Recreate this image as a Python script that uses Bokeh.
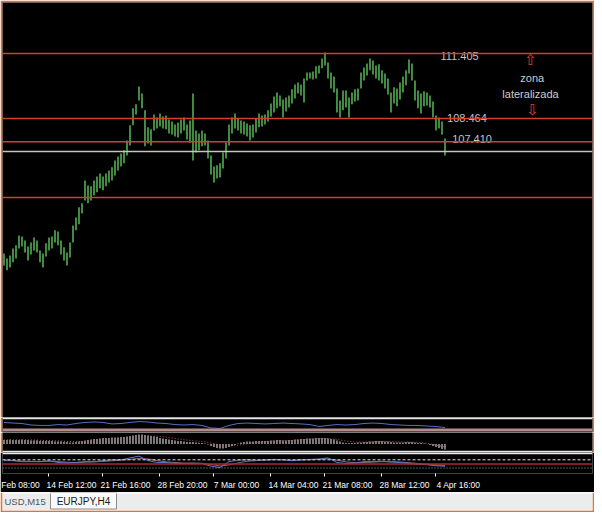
from bokeh.plotting import figure
from bokeh.layouts import column
from bokeh.models import Range1d, Span, FixedTicker
from bokeh.core.properties import value
from bokeh.embed import file_html
from bokeh.resources import INLINE

# ---------------- data (EURJPY, H4) ----------------
highs = [102.35, 102.13, 102.26, 102.58, 102.72, 103.17, 103.12, 102.94, 102.67, 102.85,
         103.08, 102.94, 102.49, 102.35, 102.81, 103.08, 103.12, 103.40, 103.35, 102.94,
         102.63, 102.40, 102.85, 103.62, 103.98, 104.44, 104.62, 105.66, 105.43, 105.39,
         105.66, 105.84, 105.97, 105.84, 105.97, 106.11, 106.25, 106.56, 106.74, 106.88,
         107.02, 107.47, 108.15, 108.92, 109.10, 109.91, 109.59, 108.83, 108.06, 107.97,
         108.64, 108.51, 108.69, 108.55, 108.60, 108.42, 108.33, 108.19, 108.28, 108.42,
         108.51, 108.19, 108.37, 109.59, 107.92, 107.78, 107.92, 107.78, 107.47, 106.79,
         106.29, 106.34, 106.43, 106.92, 107.38, 108.19, 108.51, 108.69, 108.46, 108.37,
         108.33, 108.24, 108.15, 108.19, 108.46, 108.69, 108.60, 108.64, 108.83, 109.14,
         109.46, 109.64, 109.50, 109.32, 109.41, 109.50, 109.78, 110.00, 110.09, 110.00,
         110.27, 110.54, 110.54, 110.59, 110.82, 110.86, 111.18, 111.45, 111.00, 110.54,
         110.36, 109.82, 109.28, 109.73, 109.73, 109.41, 109.64, 109.78, 109.82, 110.54,
         110.77, 110.95, 111.18, 111.09, 110.86, 110.91, 110.64, 110.50, 110.27, 109.64,
         109.87, 109.82, 110.09, 110.36, 110.64, 111.13, 110.95, 110.18, 109.73, 109.59,
         109.69, 109.64, 109.50, 109.23, 108.60, 108.51, 108.33, 107.56]
lows = [101.81, 101.59, 101.72, 101.95, 102.13, 102.58, 102.67, 102.40, 102.04, 102.31,
        102.49, 102.40, 101.95, 101.72, 102.22, 102.49, 102.58, 102.85, 102.72, 102.31,
        102.04, 101.81, 102.17, 102.85, 103.40, 103.67, 104.16, 104.75, 104.62, 104.75,
        104.98, 105.12, 105.30, 105.21, 105.39, 105.57, 105.66, 105.88, 106.11, 106.29,
        106.43, 106.79, 107.24, 108.15, 108.64, 109.28, 108.92, 107.20, 107.33, 107.24,
        107.92, 108.01, 108.10, 108.01, 107.97, 107.78, 107.74, 107.65, 107.60, 107.78,
        107.92, 107.51, 107.38, 106.56, 106.92, 107.02, 107.20, 107.24, 106.65, 105.93,
        105.57, 105.75, 105.79, 106.20, 106.65, 107.24, 107.78, 108.01, 107.92, 107.78,
        107.74, 107.65, 107.47, 107.60, 107.83, 108.06, 108.10, 108.19, 108.33, 108.55,
        108.73, 108.92, 109.01, 108.51, 108.78, 108.96, 109.14, 109.37, 109.59, 109.50,
        109.19, 110.18, 110.27, 110.23, 110.27, 110.50, 110.73, 110.86, 110.27, 109.82,
        109.64, 108.73, 108.51, 108.83, 108.96, 108.51, 109.10, 109.23, 109.28, 109.82,
        110.18, 110.41, 110.64, 110.45, 110.27, 110.18, 110.05, 109.82, 109.55, 108.73,
        109.14, 109.01, 109.32, 109.64, 109.96, 110.50, 110.18, 109.28, 108.92, 108.69,
        109.01, 109.05, 108.96, 108.51, 107.92, 108.01, 107.74, 106.79]

red_levels = [111.405, 108.464, 107.410, 104.89]
level_labels = ["111.405", "108.464", "107.410"]
bid_price = 106.97

# indicator 1 (oscillator line, sampled every 3rd bar)
ind1_line = [67, 63, 60, 50, 47, 47, 53, 50, 60, 67, 70, 67, 57, 60, 67, 73, 70, 63, 60, 53,
             50, 53, 47, 30, 27, 47, 60, 63, 60, 57, 60, 63, 60, 57, 53, 40, 47, 53, 50, 53,
             60, 63, 60, 53, 50, 47, 47, 43, 40, 33]
ind1_level = 17

# indicator 2 (OsMA histogram, one per bar) and its signal (every 3rd bar)
osma = [4, 4, 4.5, 4, 4, 4, 4.5, 4, 4, 3.5,
        3.5, 3.5, 3, 3, 3, 3, 3, 2.5, 2.5, 2.5,
        2, 2, 1.5, 1.5, 2, 2.5, 3, 3.5, 4, 4.5,
        5, 5, 5.5, 6, 6, 6, 6.5, 6.5, 6.5, 7,
        7, 7.5, 8, 8.5, 9, 9.5, 9.5, 9, 8.5, 8,
        7.5, 7, 6, 5.5, 5, 4.5, 4, 3.5, 3, 3,
        2.5, 2, 2, 2, 1.5, 1, 1, 0.5, -0.5, -2,
        -3, -4, -4.5, -4.5, -4, -3, -2, -1, 0.5, 1.5,
        2, 2.5, 2.5, 2.5, 3, 3, 3, 3, 3, 3.5,
        3.5, 4, 4, 3.5, 3.5, 4, 4, 4.5, 4.5, 5,
        5, 5.5, 5.5, 5.5, 6, 6, 6, 6, 5.5, 5,
        4.5, 3.5, 2.5, 1.5, 1, 1, 1, 1, 1.5, 1.5,
        2, 2, 2.5, 2.5, 3, 3, 3, 2.5, 2.5, 2,
        1.5, 1.5, 1.5, 1.5, 2, 2, 2, 1.5, 1, 1,
        0.5, 0, -1, -2, -3, -4, -5, -5.5]
osma_signal = [4, 4, 4.1, 4, 3.7, 3.4, 3, 2.6, 2.3, 2.6, 3.3, 4.2, 5, 5.8, 6.6, 7.5, 8, 7.8, 6.8, 5.5,
               4.3, 3.3, 2.4, 1, -1.2, -2.2, -1.3, 0.3, 1.6, 2.4, 3, 3.3, 3.6, 4.2, 4.8, 5.4, 5.5, 4.6, 3, 2,
               2, 2.2, 2.6, 2.4, 2, 2, 1.5, 0.8, -1, -3]

# indicator 3 (RSI-like, every 3rd bar) with its average and levels
rsi = [70, 66, 61, 61, 61, 66, 57, 54, 57, 61, 61, 66, 70, 70, 79, 88, 66, 57, 57, 52,
       52, 54, 52, 39, 32, 61, 68, 70, 68, 70, 72, 70, 66, 70, 72, 74, 79, 57, 52, 54,
       61, 61, 63, 59, 57, 52, 48, 46, 41, 39]
rsi_ma = [66, 66, 64, 62, 61, 63, 61, 58, 57, 59, 60, 62, 65, 68, 72, 77, 74, 66, 60, 57,
          54, 53, 53, 47, 40, 45, 55, 63, 66, 68, 70, 70, 68, 69, 70, 72, 75, 68, 60, 56,
          57, 59, 61, 61, 59, 56, 52, 49, 45, 42]
rsi_levels = [70, 50, 30]

# time axis (first label is cut by the window edge in the original)
tick_bars = [-2, 15, 33, 52, 70, 89, 107, 126, 144]
tick_labels = ["Feb 08:00", "14 Feb 12:00", "21 Feb 16:00", "28 Feb 20:00", "7 Mar 00:00",
               "14 Mar 04:00", "21 Mar 08:00", "28 Mar 12:00", "4 Apr 16:00"]

# ---------------- drawing ----------------
bars = list(range(len(highs)))
samp = bars[::3]

ORANGE = "#ee7028"
W = 594
FONT = value("Liberation Sans")
xr = Range1d(-0.5, 196.17)


def panel(height, yr, top=0, bottom=0, fill=ORANGE, xloc=None):
    f = figure(width=W, height=height, x_range=xr, y_range=yr,
               output_backend="svg", toolbar_location=None,
               x_axis_location=xloc, y_axis_location=None,
               min_border_left=2, min_border_right=2,
               min_border_top=top, min_border_bottom=bottom,
               background_fill_color="black", border_fill_color=fill)
    f.grid.grid_line_color = None
    f.outline_line_color = None
    return f


# main price chart
p = panel(417, Range1d(94.93, 113.71), top=2)
p.segment(x0=bars, y0=lows, x1=bars, y1=highs, line_color="#6ee86e", line_width=1.2)
for lv in red_levels:
    p.add_layout(Span(location=lv, dimension="width", line_color="#d0402f", line_width=1.5))
p.add_layout(Span(location=bid_price, dimension="width", line_color="#c4c4c4", line_width=1.5))

lab_style = dict(text_font=FONT, text_font_size="11px", text_color="#c4c4c4",
                 text_align="left", text_baseline="middle")
p.text(x=[145.5], y=[red_levels[0]], text=[level_labels[0]], y_offset=2.7, **lab_style)
p.text(x=[147.7], y=[red_levels[1]], text=[level_labels[1]], y_offset=-0.5, **lab_style)
p.text(x=[149.4], y=[red_levels[2]], text=[level_labels[2]], y_offset=-2.3, **lab_style)

zone_style = dict(text_font=FONT, text_font_size="11px", text_color="#cccccc",
                  text_align="center", text_baseline="middle")
p.text(x=[176.1], y=[110.31], text=["zona"], **zone_style)
p.text(x=[175.5], y=[109.58], text=["lateralizada"], **zone_style)
arrow_style = dict(text_font=value("DejaVu Sans"), text_font_size="15px", text_color="#e03c3c",
                   text_align="center", text_baseline="middle")
p.text(x=[175.5], y=[111.09], text=["\u21e7"], **arrow_style)
p.text(x=[176.2], y=[108.83], text=["\u21e9"], **arrow_style)

# indicator 1
p1 = panel(15, Range1d(0, 100))
p1.add_layout(Span(location=95, dimension="width", line_color="#e6e6e6", line_width=2))
p1.add_layout(Span(location=ind1_level, dimension="width", line_color="#b48c8c", line_width=3))
p1.line(x=samp, y=ind1_line, line_color="#5070c0", line_width=1)

# indicator 2
p2 = panel(20, Range1d(-8.5, 11.5))
p2.segment(x0=bars, y0=[0] * len(osma), x1=bars, y1=osma, line_color="#f4f4f4", line_width=1)
p2.line(x=samp, y=osma_signal, line_color="#c85a5a", line_width=1, line_dash="1 2")
p2.add_layout(Span(location=-7.5, dimension="width", line_color="#e6e6e6", line_width=1.5))

# indicator 3 with time axis
p3 = panel(40, Range1d(3.3, 105.6), bottom=17, fill="black", xloc="below")
p3.add_layout(Span(location=101.1, dimension="width", line_color="#e6e6e6", line_width=1.5))
p3.add_layout(Span(location=rsi_levels[0], dimension="width", line_color="#e0e0e0",
                   line_width=1, line_dash="3 2"))
p3.add_layout(Span(location=rsi_levels[1], dimension="width", line_color="#b02828", line_width=1.5))
p3.add_layout(Span(location=rsi_levels[2], dimension="width", line_color="#a8a8a8",
                   line_width=1, line_dash="1 2"))
p3.line(x=samp, y=rsi_ma, line_color="#a06070", line_width=1)
p3.line(x=samp, y=rsi, line_color="#5a78c8", line_width=1)

label_pos = [t + 7.5 for t in tick_bars]
ax = p3.xaxis[0]
ax.ticker = FixedTicker(ticks=label_pos, minor_ticks=tick_bars)
ax.major_label_overrides = {pos: lab for pos, lab in zip(label_pos, tick_labels)}
ax.axis_line_color = None
ax.major_tick_line_color = None
ax.major_tick_out = 0
ax.major_tick_in = 0
ax.minor_tick_line_color = "white"
ax.minor_tick_out = 3
ax.minor_tick_in = 0
ax.major_label_standoff = 3
ax.major_label_text_color = "white"
ax.major_label_text_font = "Liberation Sans"
ax.major_label_text_font_size = "8.5px"

# tab strip
pt = figure(width=W, height=20, x_range=Range1d(2, 592), y_range=Range1d(0, 18),
            output_backend="svg", toolbar_location=None,
            x_axis_location=None, y_axis_location=None,
            min_border_left=2, min_border_right=2, min_border_top=0, min_border_bottom=2,
            background_fill_color="#ececec", border_fill_color=ORANGE)
pt.grid.grid_line_color = None
pt.outline_line_color = None
pt.add_layout(Span(location=17.5, dimension="width", line_color="white", line_width=1))
pt.quad(left=[50], right=[116], bottom=[1.5], top=[18], fill_color="#fafafa", line_color="#8c8c8c")
pt.text(x=[83], y=[9.5], text=["EURJPY,H4"], text_font=FONT, text_font_size="10px",
        text_color="#1a1a1a", text_align="center", text_baseline="middle")
pt.text(x=[4], y=[9.5], text=["USD,M15"], text_font=FONT, text_font_size="9.5px",
        text_color="#555555", text_align="left", text_baseline="middle")

layout = column(p, p1, p2, p3, pt, spacing=0)
open("out.html", "w").write(file_html(layout, INLINE))
